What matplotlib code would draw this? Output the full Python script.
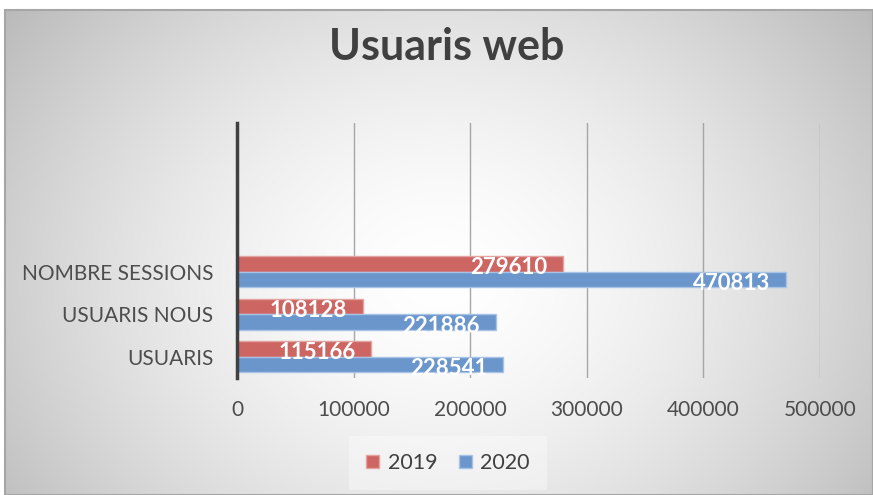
import numpy as np
import matplotlib.pyplot as plt
from matplotlib.patches import Patch, Rectangle

categories = ["USUARIS", "USUARIS NOUS", "NOMBRE SESSIONS"]
values_2019 = [115166, 108128, 279610]
values_2020 = [228541, 221886, 470813]
series_names = ["2019", "2020"]
x_ticks = [0, 100000, 200000, 300000, 400000, 500000]

plt.rcParams['font.family'] = ['Lato', 'DejaVu Sans']

W, H = 873, 495
fig = plt.figure(figsize=(W / 100, H / 100), dpi=100)
fig.patch.set_facecolor('white')

# background radial gradient
bx0, by0 = 5, 10
bg = fig.add_axes([bx0 / W, 0, (W - bx0) / W, (H - by0) / H])
ny, nx = H - by0, W - bx0
yy, xx = np.mgrid[0:ny, 0:nx]
cx, cy = nx * 0.5, ny * 0.55
r = np.sqrt(((xx - cx) / (nx * 0.55)) ** 2 + ((yy - cy) / (ny * 0.8)) ** 2)
val = np.clip(1 - 0.22 * r ** 1.6, 0, 1)
img = np.dstack([val] * 3)
bg.imshow(img, aspect='auto', extent=[0, 1, 0, 1], origin='upper', interpolation='bilinear')
bg.set_xlim(0, 1)
bg.set_ylim(0, 1)
bg.set_axis_off()
fig.patches.append(Rectangle((bx0 / W, 0), (W - bx0) / W, (H - by0) / H,
                             transform=fig.transFigure, fill=False,
                             edgecolor='#a6a6a6', linewidth=1.5, zorder=1))

# main axes
ax = fig.add_axes([237 / W, (H - 378) / H, (820 - 237) / W, (378 - 123) / H])
ax.patch.set_alpha(0)

red = '#CD6663'
blue = '#6A96CC'
red_edge = '#E3A3A1'
blue_edge = '#A8C2E6'
h = 0.365
y = np.arange(len(categories))

b1 = ax.barh(y + h / 2, values_2019, height=h, color=red, edgecolor=red_edge, linewidth=1, zorder=3)
b2 = ax.barh(y - h / 2, values_2020, height=h, color=blue, edgecolor=blue_edge, linewidth=1, zorder=3)

for bars, vals in ((b1, values_2019), (b2, values_2020)):
    for rect, v in zip(bars, vals):
        ax.annotate(str(v), xy=(v, rect.get_y() + rect.get_height() / 2),
                    xytext=(-16, -4), textcoords='offset pixels',
                    ha='right', va='center', color='white', fontsize=16,
                    fontweight='bold', zorder=5)

ax.set_xlim(0, 500000)
ax.set_ylim(-0.5, 5.5)
ax.set_xticks(x_ticks)
ax.set_xticklabels([str(t) for t in x_ticks])
ax.set_yticks(y)
ax.set_yticklabels(categories)
ax.xaxis.grid(True, color='#a6a6a6', linewidth=1, zorder=0)
ax.set_axisbelow(True)
for s in ('top', 'right', 'bottom'):
    ax.spines[s].set_visible(False)
ax.spines['left'].set_color('#404040')
ax.spines['left'].set_linewidth(2.5)
ax.spines['left'].set_zorder(6)
ax.tick_params(axis='both', length=0, labelsize=15, labelcolor='#4d4d4d')
ax.tick_params(axis='x', pad=16)
ax.tick_params(axis='y', pad=17)

fig.text(447 / W, (H - 47) / H, "Usuaris web", ha='center', va='center',
         fontsize=31, fontweight='bold', color='#404040')

handles = [Patch(facecolor=red, edgecolor=red_edge, label=series_names[0]),
           Patch(facecolor=blue, edgecolor=blue_edge, label=series_names[1])]
leg = fig.legend(handles=handles, loc='center', bbox_to_anchor=(448 / W, (H - 463) / H),
                 ncol=2, fontsize=15.5, frameon=True, handlelength=0.6, handleheight=0.6,
                 handletextpad=0.4, columnspacing=1.0, borderpad=0.5)
leg.get_frame().set_facecolor('#ffffff')
leg.get_frame().set_alpha(0.35)
leg.get_frame().set_edgecolor('none')
leg.get_frame().set_boxstyle('square')
for t in leg.get_texts():
    t.set_color('#404040')

fig.savefig('out.png', dpi=100)
